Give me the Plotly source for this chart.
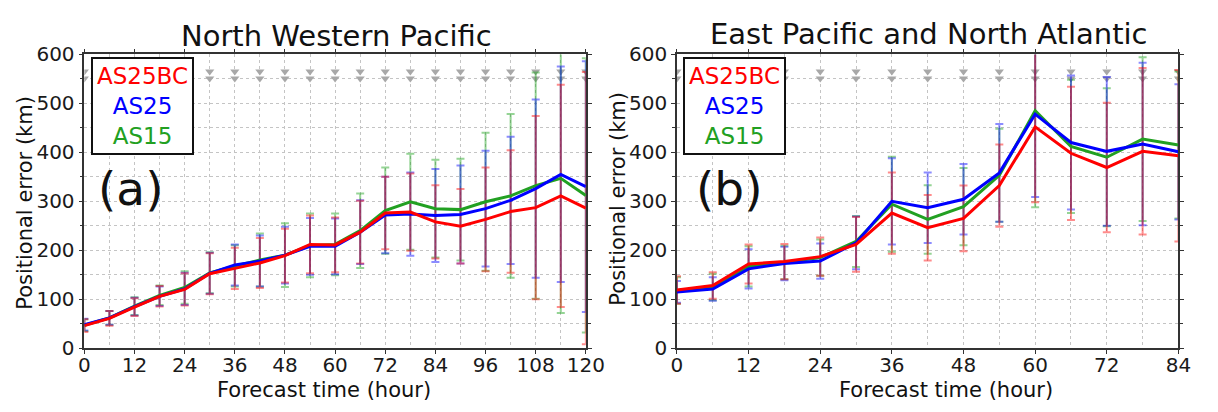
import plotly.graph_objects as go

# ---------------- data ----------------
hours_nwp = [0, 6, 12, 18, 24, 30, 36, 42, 48, 54, 60, 66, 72, 78, 84, 90, 96, 102, 108, 114, 120]
hours_epa = [0, 6, 12, 18, 24, 30, 36, 42, 48, 54, 60, 66, 72, 78, 84]

# North Western Pacific: mean positional error and std (km)
nwp_as25bc = [46, 61, 84, 106, 120, 152, 163, 174, 189, 212, 211, 237, 276, 278, 258, 249, 263, 279, 287, 311, 286]
nwp_as25bc_sd = [13, 15, 18, 21, 33, 42, 42, 51, 55, 59, 56, 64, 74, 79, 75, 76, 106, 125, 187, 227, 278]
nwp_as25 = [48, 62, 85, 106, 121, 153, 170, 178, 190, 208, 208, 237, 272, 274, 271, 273, 285, 302, 326, 355, 330]
nwp_as25_sd = [12, 14, 18, 20, 33, 42, 42, 52, 58, 58, 57, 65, 78, 85, 95, 100, 118, 130, 182, 220, 256]
nwp_as15 = [47, 62, 86, 108, 124, 154, 168, 180, 190, 210, 212, 240, 281, 299, 285, 283, 299, 311, 332, 347, 312]
nwp_as15_sd = [12, 14, 18, 20, 33, 42, 42, 54, 65, 65, 63, 76, 88, 98, 100, 104, 141, 167, 231, 275, 280]

# East Pacific and North Atlantic
epa_as25bc = [119, 128, 172, 177, 187, 212, 276, 246, 265, 332, 452, 398, 369, 402, 393]
epa_as25bc_sd = [28, 27, 40, 36, 39, 56, 83, 67, 67, 84, 154, 136, 132, 170, 175]
epa_as25 = [115, 121, 162, 173, 178, 215, 300, 287, 304, 358, 478, 420, 402, 417, 401]
epa_as25_sd = [22, 24, 40, 34, 36, 54, 88, 72, 72, 100, 169, 137, 152, 166, 138]
epa_as15 = [118, 125, 167, 175, 185, 218, 294, 263, 289, 353, 485, 412, 390, 427, 415]
epa_as15_sd = [27, 27, 41, 34, 37, 52, 97, 70, 79, 95, 197, 136, 141, 167, 150]

marker_levels = [551, 565]

series_names = ["AS25BC", "AS25", "AS15"]
line_colors = {"AS25BC": "#ff0000", "AS25": "#0000ff", "AS15": "#22a022"}
err_colors = {"AS25BC": "rgba(255,0,0,0.45)", "AS25": "rgba(0,0,255,0.45)", "AS15": "rgba(20,160,20,0.45)"}

panels = [
    dict(x=hours_nwp, xa="x", ya="y",
         data={"AS25BC": (nwp_as25bc, nwp_as25bc_sd), "AS25": (nwp_as25, nwp_as25_sd), "AS15": (nwp_as15, nwp_as15_sd)}),
    dict(x=hours_epa, xa="x2", ya="y2",
         data={"AS25BC": (epa_as25bc, epa_as25bc_sd), "AS25": (epa_as25, epa_as25_sd), "AS15": (epa_as15, epa_as15_sd)}),
]

W, H = 1218, 412
FONT = "DejaVu Sans"

fig = go.Figure()

for p in panels:
    for lvl in marker_levels:
        fig.add_trace(go.Scatter(
            x=p["x"], y=[lvl] * len(p["x"]), mode="markers",
            marker=dict(symbol="triangle-down", size=8, color="#a8a8a8"),
            xaxis=p["xa"], yaxis=p["ya"], showlegend=False, hoverinfo="skip"))
    for name in ["AS15", "AS25", "AS25BC"]:
        m, sd = p["data"][name]
        fig.add_trace(go.Scatter(
            x=p["x"], y=m, mode="markers", marker=dict(size=1, opacity=0),
            error_y=dict(type="data", array=sd, visible=True, color=err_colors[name],
                         thickness=2, width=4),
            xaxis=p["xa"], yaxis=p["ya"], showlegend=False, hoverinfo="skip"))
    for name in ["AS15", "AS25", "AS25BC"]:
        m, sd = p["data"][name]
        fig.add_trace(go.Scatter(
            x=p["x"], y=m, mode="lines", line=dict(color=line_colors[name], width=3),
            xaxis=p["xa"], yaxis=p["ya"], name=name, showlegend=False))

axis_common = dict(
    showline=True, linecolor="#333333", linewidth=1.5, mirror="allticks",
    ticks="outside", ticklen=4, tickwidth=1.2, tickcolor="#333333",
    showgrid=True, gridcolor="#c4c4c4", griddash="dot", gridwidth=1,
    zeroline=False, tickfont=dict(family=FONT, size=20, color="#1a1a1a"),
)

def px_x(v):
    return v / W

def px_y(v):
    return 1 - v / H

minor_x = dict(dtick=6, showgrid=True, gridcolor="#c4c4c4", griddash="dot", ticks="")
minor_y = dict(dtick=50, showgrid=True, gridcolor="#c4c4c4", griddash="dot", ticks="outside", ticklen=3)

fig.update_layout(
    width=W, height=H, autosize=False,
    margin=dict(l=0, r=0, t=0, b=0),
    paper_bgcolor="white", plot_bgcolor="white",
    showlegend=False,
    font=dict(family=FONT, color="#111111"),
    xaxis=dict(domain=[px_x(80), px_x(592)], range=[0, 120], tick0=0, dtick=12,
               minor=minor_x, anchor="y", ticklabelstandoff=-6, **axis_common),
    yaxis=dict(domain=[px_y(357), px_y(45)], range=[0, 600], tick0=0, dtick=100,
               minor=minor_y, anchor="x", **axis_common),
    xaxis2=dict(domain=[px_x(685), px_x(1197)], range=[0, 84], tick0=0, dtick=12,
                minor=minor_x, anchor="y2", ticklabelstandoff=-6, **axis_common),
    yaxis2=dict(domain=[px_y(357), px_y(45)], range=[0, 600], tick0=0, dtick=100,
                minor=minor_y, anchor="x2", **axis_common),
)

def ann(text, x, y, size, color="#111111", angle=0, **kw):
    fig.add_annotation(text=text, x=px_x(x), y=px_y(y), xref="paper", yref="paper",
                       xanchor="center", yanchor="middle", showarrow=False, textangle=angle,
                       font=dict(family=FONT, size=size, color=color), **kw)

ann("North Western Pacific", 337, 25, 29)
ann("East Pacific and North Atlantic", 942, 23, 29)
ann("Forecast time (hour)", 325, 401, 21)
ann("Forecast time (hour)", 960, 401, 21)
ann("Positional error (km)", 20, 203, 21, angle=-90)
ann("Positional error (km)", 625, 198, 21, angle=-90)
ann("(a)", 127, 187, 47)
ann("(b)", 739, 187, 47)

legend_text = "<br>".join(
    f"<span style='color:{line_colors[n]}'>{n}</span>" for n in series_names)
for cx in (139, 744):
    ann(legend_text, cx, 100, 23, bordercolor="#111111", borderwidth=2, borderpad=4,
        bgcolor="white", align="center")

fig.write_html("out.html")
